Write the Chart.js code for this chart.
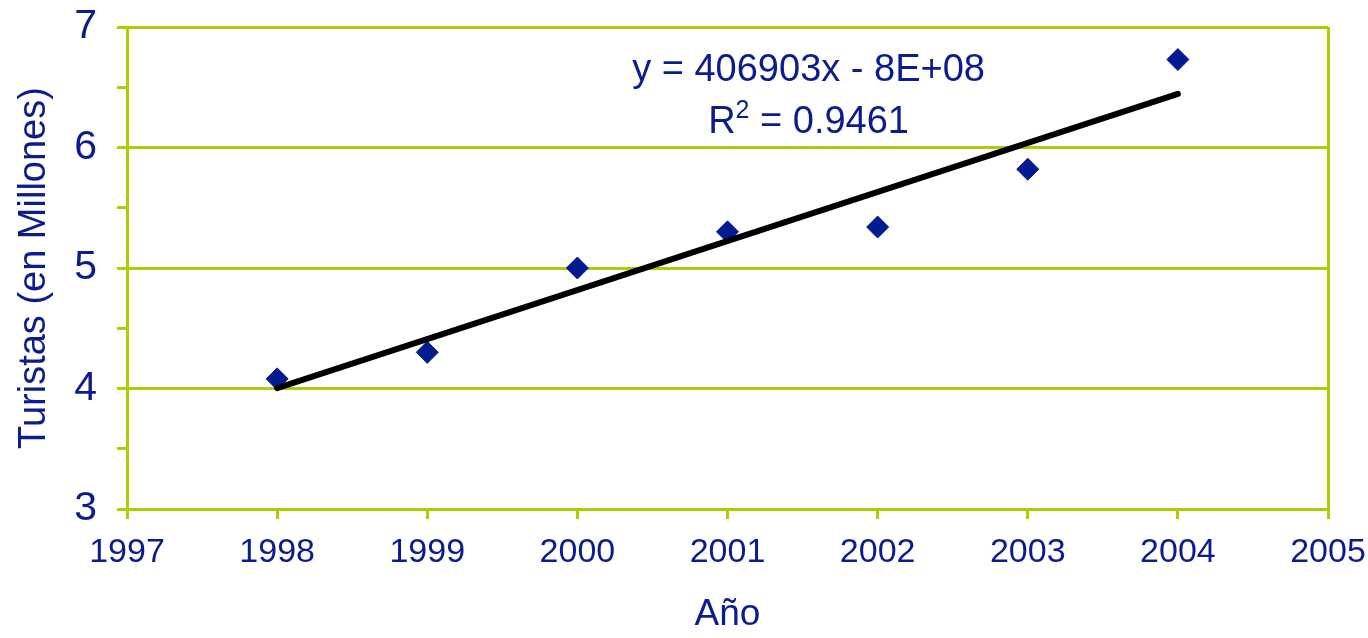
<!DOCTYPE html>
<html>
<head>
<meta charset="utf-8">
<script src="https://cdn.jsdelivr.net/npm/chart.js@4/dist/chart.umd.min.js"></script>
<style>
  html, body { margin: 0; padding: 0; background: #ffffff; }
  canvas { display: block; }
</style>
</head>
<body>
<canvas id="chart" width="1368" height="638"></canvas>
<script>
// Turistas por año (millones)
const years = [1998, 1999, 2000, 2001, 2002, 2003, 2004];
const tourists = [4.08, 4.30, 5.00, 5.30, 5.34, 5.82, 6.73];

// Axis ranges and ticks
const xTickValues = [1997, 1998, 1999, 2000, 2001, 2002, 2003, 2004, 2005];
const yTickValues = [3, 4, 5, 6, 7];

// Linear trend: slope 406903 turistas/año = 0.406903 millones/año
const trendSlopeMillions = 0.406903;
const equationText = 'y = 406903x - 8E+08';
const r2Text = '0.9461';

const TEXT_COLOR = '#0b1c8f';
const MARK_COLOR = '#021a92';
const GRID_COLOR = '#aacf05';
const FONT = '"Liberation Sans", Arial, sans-serif';

// Trend line passes through the centroid of the data with the given slope
const meanX = years.reduce((a, b) => a + b, 0) / years.length;
const meanY = tourists.reduce((a, b) => a + b, 0) / tourists.length;
const trendAt = x => meanY + trendSlopeMillions * (x - meanX);
const trendPoints = [years[0], years[years.length - 1]].map(x => ({ x, y: trendAt(x) }));

const scatterPoints = years.map((x, i) => ({ x, y: tourists[i] }));

// Keep the plot area fixed: no extra room reserved for overhanging tick labels
const clearLabelPadding = axis => {
  axis.paddingTop = 0;
  axis.paddingBottom = 0;
  axis.paddingLeft = 0;
  axis.paddingRight = 0;
};

// Equation and R² label drawn above the trend line
const equationLabel = {
  id: 'equationLabel',
  afterDatasetsDraw(chart) {
    const { ctx, scales } = chart;
    const cx = scales.x.getPixelForValue(2001.54);
    const y1 = scales.y.getPixelForValue(6.64);
    const y2 = scales.y.getPixelForValue(6.205);
    ctx.save();
    ctx.fillStyle = TEXT_COLOR;
    ctx.textBaseline = 'middle';
    ctx.font = '38px ' + FONT;
    ctx.textAlign = 'center';
    ctx.fillText(equationText, cx, y1);

    // R² = value, with a raised superscript
    const big = '38px ' + FONT;
    const small = '25px ' + FONT;
    ctx.font = big;
    const wR = ctx.measureText('R').width;
    const wRest = ctx.measureText(' = ' + r2Text).width;
    ctx.font = small;
    const wSup = ctx.measureText('2').width;
    const total = wR + wSup + wRest;
    let x = cx - total / 2;
    ctx.textAlign = 'left';
    ctx.font = big;
    ctx.fillText('R', x, y2);
    x += wR;
    ctx.font = small;
    ctx.fillText('2', x, y2 - 12);
    x += wSup;
    ctx.font = big;
    ctx.fillText(' = ' + r2Text, x, y2);
    ctx.restore();
  }
};

new Chart(document.getElementById('chart'), {
  type: 'scatter',
  data: {
    datasets: [
      {
        type: 'line',
        label: 'Tendencia',
        data: trendPoints,
        borderColor: '#000000',
        borderWidth: 6,
        borderCapStyle: 'round',
        pointRadius: 0,
        fill: false
      },
      {
        label: 'Turistas',
        data: scatterPoints,
        pointStyle: 'rectRot',
        pointRadius: 11,
        pointBackgroundColor: MARK_COLOR,
        pointBorderColor: MARK_COLOR,
        pointBorderWidth: 1
      }
    ]
  },
  plugins: [equationLabel],
  options: {
    responsive: false,
    animation: false,
    devicePixelRatio: 1,
    layout: { padding: { left: 0, right: 40, top: 27, bottom: 0 } },
    plugins: { legend: { display: false }, tooltip: { enabled: false } },
    scales: {
      x: {
        type: 'linear',
        min: xTickValues[0],
        max: xTickValues[xTickValues.length - 1],
        afterBuildTicks: axis => { axis.ticks = xTickValues.map(v => ({ value: v })); },
        afterFit: axis => { axis.height = 129; clearLabelPadding(axis); },
        ticks: {
          color: TEXT_COLOR,
          font: { family: FONT, size: 34 },
          padding: 13,
          maxRotation: 0,
          autoSkip: false,
          callback: v => String(v)
        },
        grid: {
          color: ctx => (ctx.tick && ctx.tick.value === xTickValues[xTickValues.length - 1]) ? GRID_COLOR : 'rgba(0,0,0,0)',
          tickColor: GRID_COLOR,
          lineWidth: 3,
          tickWidth: 3,
          tickLength: 10
        },
        border: { color: GRID_COLOR, width: 3 },
        title: {
          display: true,
          text: 'Año',
          color: TEXT_COLOR,
          font: { family: FONT, size: 37 },
          padding: { top: 0, bottom: 1 }
        }
      },
      y: {
        type: 'linear',
        min: yTickValues[0],
        max: yTickValues[yTickValues.length - 1],
        ticks: {
          stepSize: 0.5,
          color: TEXT_COLOR,
          font: { family: FONT, size: 41 },
          padding: 20,
          callback: v => (Number.isInteger(v) ? String(v) : '')
        },
        afterFit: axis => { axis.width = 127; clearLabelPadding(axis); },
        grid: {
          color: ctx => (ctx.tick && Number.isInteger(ctx.tick.value)) ? GRID_COLOR : 'rgba(0,0,0,0)',
          tickColor: GRID_COLOR,
          lineWidth: 3,
          tickWidth: 3,
          tickLength: 10
        },
        border: { color: GRID_COLOR, width: 3 },
        title: {
          display: true,
          text: 'Turistas (en Millones)',
          color: TEXT_COLOR,
          font: { family: FONT, size: 38 },
          padding: { top: 12, bottom: 0 }
        }
      }
    }
  }
});
</script>
</body>
</html>
